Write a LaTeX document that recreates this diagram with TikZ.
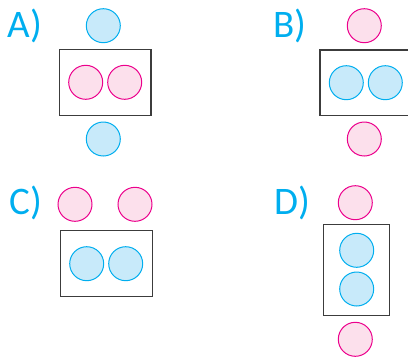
\documentclass[tikz,border=0pt]{standalone}
\usepackage{fontspec}
\setmainfont{Carlito}
\definecolor{cyanline}{RGB}{0,174,239}
\definecolor{cyanfill}{RGB}{200,234,250}
\definecolor{pinkline}{RGB}{236,0,140}
\definecolor{pinkfill}{RGB}{252,224,236}
\definecolor{boxline}{RGB}{60,60,60}
\begin{document}
\begin{tikzpicture}[x=1pt,y=-1pt,
  bluec/.style={circle,draw=cyanline,fill=cyanfill,line width=1pt,minimum size=34pt,inner sep=0pt},
  pinkc/.style={circle,draw=pinkline,fill=pinkfill,line width=1pt,minimum size=34pt,inner sep=0pt},
  boxr/.style={draw=boxline,line width=1.1pt},
  lab/.style={text=cyanline,font=\fontsize{39}{39}\selectfont,inner sep=0pt,anchor=base west}]
\useasboundingbox (0,0) rectangle (408,357);
\clip (0,0) rectangle (408,357);
% A
\node[lab] (la) at (7.5,37) {A)};
\draw[boxr] (59.3,49.3) rectangle (151,115.7);
\node[bluec] (a1) at (103.3,25.7) {};
\node[pinkc] (a2) at (85.7,82.3) {};
\node[pinkc] (a3) at (124.7,82.3) {};
\node[bluec] (a4) at (103.3,139) {};
% B
\node[lab] (lb) at (273.5,37) {B)};
\draw[boxr] (320,50) rectangle (412,115.5);
\node[pinkc] (b1) at (364.3,25.7) {};
\node[bluec] (b2) at (346.3,82.7) {};
\node[bluec] (b3) at (385.3,82.7) {};
\node[pinkc] (b4) at (364.3,139) {};
% C
\node[lab] (lc) at (9.5,214) {C)};
\draw[boxr] (60.3,230.7) rectangle (152.3,296.3);
\node[pinkc] (c1) at (75,204.3) {};
\node[pinkc] (c2) at (135,204.3) {};
\node[bluec] (c3) at (86.7,263.7) {};
\node[bluec] (c4) at (125.7,263.7) {};
% D
\node[lab] (ld) at (274.5,214) {D)};
\draw[boxr] (323.7,224.3) rectangle (389.7,315.7);
\node[pinkc] (d1) at (355.3,202.7) {};
\node[bluec] (d2) at (356.7,250.3) {};
\node[bluec] (d3) at (356.7,289) {};
\node[pinkc] (d4) at (355.3,339.3) {};
\end{tikzpicture}
\end{document}
